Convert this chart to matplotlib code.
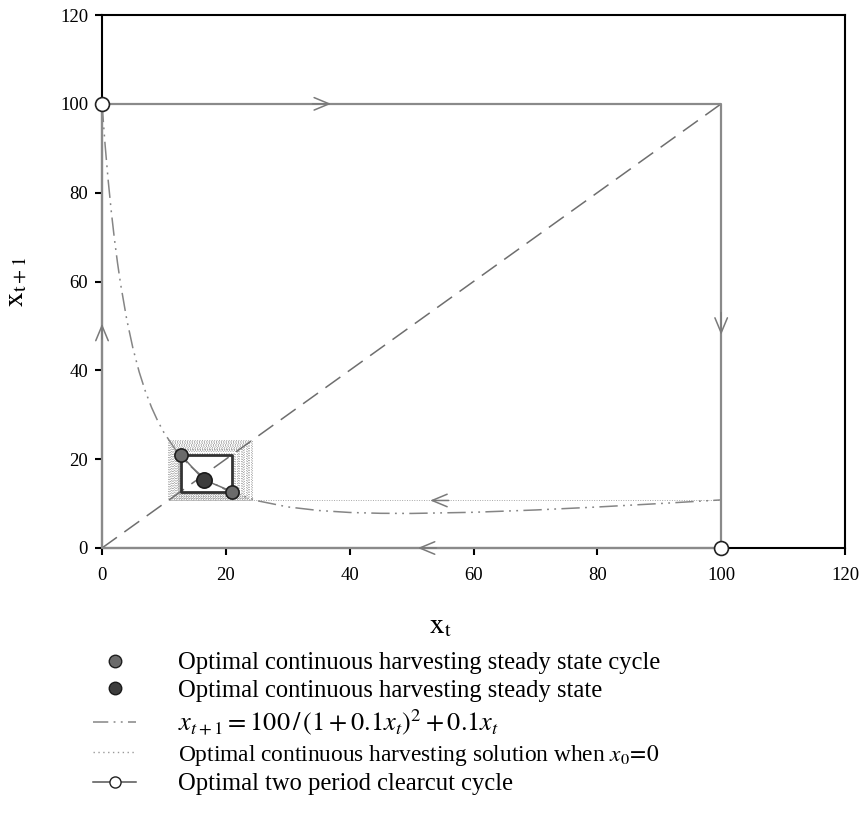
import matplotlib
matplotlib.use("Agg")
import matplotlib.pyplot as plt
from matplotlib.lines import Line2D

plt.rcParams['font.family'] = ['Liberation Serif', 'DejaVu Serif']
plt.rcParams['mathtext.fontset'] = 'stix'

# ---- data ----
# curve x_{t+1} = 100/(1+0.1x_t)^2 + 0.1x_t (sampled points)
curve_x = [0, 0.5, 1, 1.5, 2, 2.5, 3, 4, 5, 6, 7, 8, 9, 10, 12, 14, 16, 18, 20,
           25, 30, 35, 40, 45, 50, 60, 70, 80, 90, 100]
curve_y = [100, 90.75, 82.74, 75.76, 69.64, 64.25, 59.47, 51.42, 44.94, 39.66, 35.30,
           31.66, 28.60, 26.0, 21.86, 18.76, 16.39, 14.56, 13.11,
           10.66, 9.25, 8.44, 8.0, 7.81, 7.78, 8.04, 8.56, 9.23, 10.0, 10.83]
# diagonal x_{t+1} = x_t
diag_x = [0, 100]
diag_y = [0, 100]
# optimal two period clearcut cycle
clear_x = [0, 100, 100, 0, 0]
clear_y = [100, 100, 0, 0, 100]
clear_pts_x = [0, 100]
clear_pts_y = [100, 0]
# optimal continuous harvesting solution when x0 = 0 (sequence of states)
low_states = [10.7, 10.85, 11.0, 11.15, 11.3, 11.45, 11.6, 11.75, 11.9, 12.05,
              12.2, 12.3, 12.4, 12.5, 12.6, 12.7]
high_states = [24.3, 24.05, 23.8, 23.6, 23.4, 23.2, 23.0, 22.8, 22.6, 22.4,
               22.2, 22.0, 21.75, 21.5, 21.25, 21.0]
first_state = 100
# steady state cycle points and steady state
cycle_x = [12.7, 21.0]
cycle_y = [21.0, 12.7]
steady_x = [16.4]
steady_y = [15.4]
ticks = [0, 20, 40, 60, 80, 100, 120]

fig = plt.figure(figsize=(8.63, 8.15), dpi=100)
ax = fig.add_axes([102/863, 1-548/815, 743/863, 533/815])
ax.set_xlim(0, 120)
ax.set_ylim(0, 120)

gray = '#858585'

# states sequence -> phase points
seq = [first_state]
for lo, hi in zip(low_states, high_states):
    seq += [lo, hi]
px = seq[:-1]
py = seq[1:]
ax.plot(px, py, drawstyle='steps-post', color='#a8a8a8', lw=0.7,
        dashes=(1, 1.5), zorder=2)

# cycle rectangle
ax.plot([cycle_x[0], cycle_y[0], cycle_y[0], cycle_y[1], cycle_y[1]],
        [cycle_y[0], cycle_y[0], cycle_y[1], cycle_y[1], cycle_y[0]],
        color='#333333', lw=2.0, zorder=4)

# diagonal
ax.plot(diag_x, diag_y, color='#6e6e6e', lw=1.1, dashes=(12, 6), zorder=3)
# curve
ax.plot(curve_x, curve_y, color=gray, lw=1.1, dashes=(12, 3.5, 1.2, 3.5, 1.2, 3.5),
        zorder=3)
ax.plot([cycle_x[0], steady_x[0], cycle_x[1]], [cycle_y[0], steady_y[0], cycle_y[1]],
        color='#707070', lw=1.1, zorder=3)

# clearcut cycle
ax.plot(clear_x, clear_y, color='#8a8a8a', lw=1.6, zorder=3, clip_on=False)

def chevron(x0, y0, x1, y1):
    ax.annotate('', xy=(x1, y1), xytext=(x0, y0),
                arrowprops=dict(arrowstyle='->,head_length=0.6,head_width=0.25',
                                color='#7a7a7a', lw=1.1, mutation_scale=18,
                                shrinkA=0, shrinkB=0),
                annotation_clip=False, zorder=5)

chevron(34, 100, 37, 100)
chevron(100, 53, 100, 48)
chevron(54, 0, 51, 0)
chevron(0, 47, 0, 50.5)
chevron(56, 10.7, 53, 10.7)

ax.plot(clear_pts_x, clear_pts_y, 'o', ms=10, mfc='white', mec='#222222', mew=1.2,
        zorder=10, clip_on=False)
ax.plot(cycle_x, cycle_y, 'o', ms=9.5, mfc='#6b6b6b', mec='#1e1e1e', mew=1.2, zorder=8)
ax.plot(steady_x, steady_y, 'o', ms=11, mfc='#3d3d3d', mec='#1a1a1a', mew=1.2, zorder=8)

for s in ax.spines.values():
    s.set_linewidth(1.5)
    s.set_color('black')
ax.set_xticks(ticks)
ax.set_yticks(ticks)
ax.tick_params(direction='out', length=5, width=1.5, labelsize=13.5)
ax.tick_params(axis='x', pad=9)
ax.tick_params(axis='y', pad=5)
ax.set_xlabel(r'$\mathrm{x_t}$', fontsize=21)
ax.set_ylabel(r'$\mathrm{x_{t+1}}$', fontsize=21)
ax.xaxis.set_label_coords(0.455, -0.123)
ax.yaxis.set_label_coords(-0.1, 0.5)

handles = [
    Line2D([], [], ls='none', marker='o', ms=9, mfc='#6b6b6b', mec='#1e1e1e', mew=1),
    Line2D([], [], ls='none', marker='o', ms=9, mfc='#3d3d3d', mec='#1a1a1a', mew=1),
    Line2D([], [], color=gray, lw=1.1, dashes=(10, 3.5, 1.2, 3.5, 1.2, 3.5)),
    Line2D([], [], color='#9a9a9a', lw=1.0, dashes=(1, 2.5)),
    Line2D([], [], color='#555555', lw=1.1, marker='o', ms=8, mfc='white',
           mec='#222222'),
]
labels = [
    'Optimal continuous harvesting steady state cycle',
    'Optimal continuous harvesting steady state',
    r'$x_{t+1} = 100\,/\,(1 + 0.1x_t)^2 + 0.1x_t$',
    r'Optimal continuous harvesting solution when $x_{\mathit{0}}\!=\!\mathit{0}$',
    'Optimal two period clearcut cycle',
]
leg = fig.legend(handles, labels, loc='upper left', bbox_to_anchor=(93/863, 1-652/815),
                 frameon=False, fontsize=17.7, handlelength=1.75, handletextpad=1.7,
                 labelspacing=0.22, borderpad=0, borderaxespad=0, numpoints=1)
leg.get_texts()[2].set_fontsize(19.0)
leg.get_texts()[3].set_fontsize(16.8)

fig.savefig('out.png', dpi=100)
